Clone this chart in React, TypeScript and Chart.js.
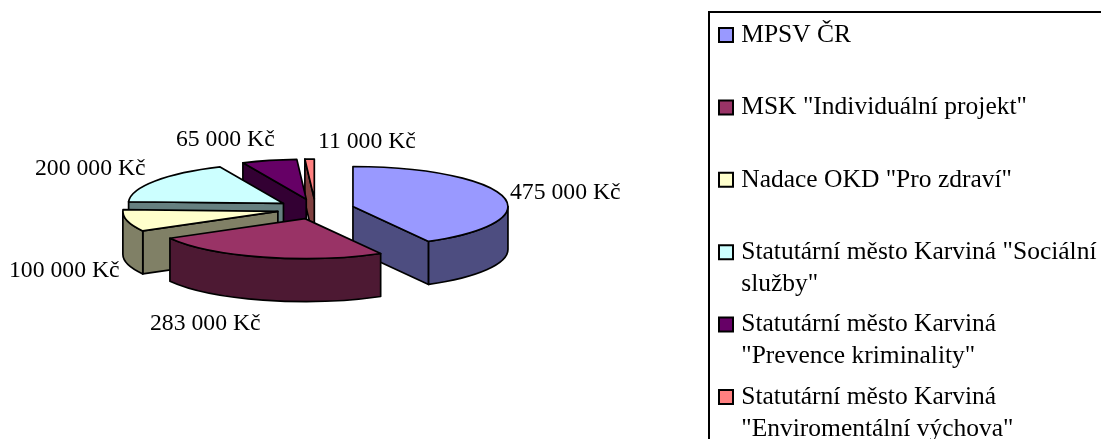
import React, { useEffect, useRef } from "react";
import { Chart, registerables } from "chart.js";

Chart.register(...registerables);

const categories: string[][] = [
  ["MPSV ČR", ""],
  ['MSK "Individuální projekt"', ""],
  ['Nadace OKD "Pro zdraví"', ""],
  ['Statutární město Karviná "Sociální', 'služby"'],
  ["Statutární město Karviná", '"Prevence kriminality"'],
  ["Statutární město Karviná", '"Enviromentální výchova"'],
];
const amounts = [475000, 283000, 100000, 200000, 65000, 11000];
const valueLabels = ["475 000 Kč", "283 000 Kč", "100 000 Kč", "200 000 Kč", "65 000 Kč", "11 000 Kč"];
const topColors = ["#9999FF", "#993366", "#FFFFCC", "#CCFFFF", "#660066", "#FF8080"];
const wallColors = ["#4D4D80", "#4D1933", "#808066", "#668080", "#330033", "#804040"];

const FONT = '"Liberation Serif", "Times New Roman", serif';
const LEGEND_SIZE = 25.5;
const LABEL_SIZE = 23.7;
const SQUASH = 40 / 155;
const DEPTH = 43;
const RADIUS = 155;
const EXPLODE = 38.7;
const CENTER_X = 315.5;
const CENTER_Y = 209;
const LINE = 1.7;
const LEGEND_PAD = 8.4;
const labelSpots: [number, number][] = [
  [510, 193],
  [150, 324],
  [9, 270.5],
  [35, 168.5],
  [176, 140],
  [318, 142],
];

function geometry(arc: any) {
  const mid = (arc.startAngle + arc.endAngle) / 2;
  return {
    s: arc.startAngle,
    e: arc.endAngle,
    dx: Math.cos(mid) * EXPLODE,
    dy: Math.sin(mid) * EXPLODE,
    ax: arc.x + Math.cos(mid) * EXPLODE,
    ay: CENTER_Y + Math.sin(mid) * EXPLODE * SQUASH,
    rx: arc.outerRadius,
    ry: arc.outerRadius * SQUASH,
  };
}

const pie3d = {
  id: "pie3d",
  afterLayout(chart: any) {
    const a = chart.chartArea;
    a.left = 0;
    a.right = CENTER_X * 2;
    a.width = CENTER_X * 2;
    a.top = 0;
    a.bottom = chart.height;
    a.height = chart.height;
    const l = chart.legend;
    l.left = 723.5 - LEGEND_PAD;
    l.right = 1200;
    l.top = 35 - LEGEND_SIZE / 2 - LEGEND_PAD;
    l.bottom = 1000;
  },
  beforeDatasetDraw(chart: any) {
    const ctx = chart.ctx;
    const arcs = chart.getDatasetMeta(0).data;
    const order = arcs.map((arc: any, i: number) => ({ g: geometry(arc), i }));
    order.sort((p: any, q: any) => p.g.ay - q.g.ay);
    ctx.save();
    ctx.lineWidth = LINE;
    ctx.strokeStyle = "#000";
    ctx.lineJoin = "round";
    for (const { g, i } of order) {
      ctx.fillStyle = wallColors[i];
      const face = (t: number) => {
        const px = g.ax + g.rx * Math.cos(t);
        const py = g.ay + g.ry * Math.sin(t);
        ctx.beginPath();
        ctx.moveTo(g.ax, g.ay);
        ctx.lineTo(px, py);
        ctx.lineTo(px, py + DEPTH);
        ctx.lineTo(g.ax, g.ay + DEPTH);
        ctx.closePath();
        ctx.fill();
        ctx.stroke();
      };
      if (Math.cos(g.s) < -1e-9) face(g.s);
      if (Math.cos(g.e) > 1e-9) face(g.e);
      const t1 = Math.max(g.s, 0);
      const t2 = Math.min(g.e, Math.PI);
      if (t2 > t1) {
        ctx.beginPath();
        ctx.ellipse(g.ax, g.ay, g.rx, g.ry, 0, t1, t2);
        ctx.ellipse(g.ax, g.ay + DEPTH, g.rx, g.ry, 0, t2, t1, true);
        ctx.closePath();
        ctx.fill();
        ctx.stroke();
      }
    }
    const y0 = (chart.chartArea.top + chart.chartArea.bottom) / 2;
    arcs.forEach((arc: any) => {
      const g = geometry(arc);
      ctx.save();
      ctx.translate(g.dx, CENTER_Y + g.dy * SQUASH);
      ctx.scale(1, SQUASH);
      ctx.translate(0, -y0);
      arc.draw(ctx);
      ctx.restore();
      ctx.beginPath();
      ctx.moveTo(g.ax, g.ay);
      ctx.ellipse(g.ax, g.ay, g.rx, g.ry, 0, g.s, g.e);
      ctx.closePath();
      ctx.stroke();
    });
    ctx.restore();
    return false;
  },
  afterDraw(chart: any) {
    const ctx = chart.ctx;
    ctx.save();
    ctx.fillStyle = "#000";
    ctx.font = `${LABEL_SIZE}px ${FONT}`;
    ctx.textAlign = "left";
    ctx.textBaseline = "middle";
    valueLabels.forEach((t, i) => ctx.fillText(t, labelSpots[i][0], labelSpots[i][1]));
    ctx.strokeStyle = "#000";
    ctx.lineWidth = 2;
    ctx.beginPath();
    ctx.moveTo(709, 445);
    ctx.lineTo(709, 12);
    ctx.lineTo(1110, 12);
    ctx.stroke();
    ctx.restore();
  },
};

export default function App() {
  const ref = useRef<HTMLCanvasElement>(null);
  useEffect(() => {
    const chart = new Chart(ref.current as HTMLCanvasElement, {
      type: "pie",
      data: {
        labels: categories.map((c) => c.join(" ")),
        datasets: [
          {
            data: amounts,
            backgroundColor: topColors,
            borderWidth: 0,
            offset: 0,
            hoverOffset: 0,
            clip: false,
          } as any,
        ],
      },
      options: {
        responsive: false,
        animation: false,
        devicePixelRatio: 1,
        radius: RADIUS,
        events: [],
        layout: { padding: 0 },
        plugins: {
          tooltip: { enabled: false },
          legend: {
            display: true,
            position: "right",
            align: "start",
            labels: {
              font: { family: FONT, size: LEGEND_SIZE, lineHeight: 32 / LEGEND_SIZE },
              color: "#000",
              padding: LEGEND_PAD,
              usePointStyle: true,
              pointStyle: "rect",
              boxWidth: 5,
              boxHeight: 14,
              generateLabels: () =>
                categories.map((text, i) => ({
                  text,
                  fillStyle: topColors[i],
                  strokeStyle: "#000",
                  lineWidth: 2,
                  pointStyle: "rect",
                  hidden: false,
                  index: i,
                })),
            },
          },
        },
      } as any,
      plugins: [pie3d],
    });
    return () => chart.destroy();
  }, []);
  return (
    <div style={{ position: "absolute", left: 0, top: 0, width: 1101, height: 439, background: "#fff" }}>
      <canvas ref={ref} width={1101} height={439} style={{ display: "block" }} />
    </div>
  );
}
